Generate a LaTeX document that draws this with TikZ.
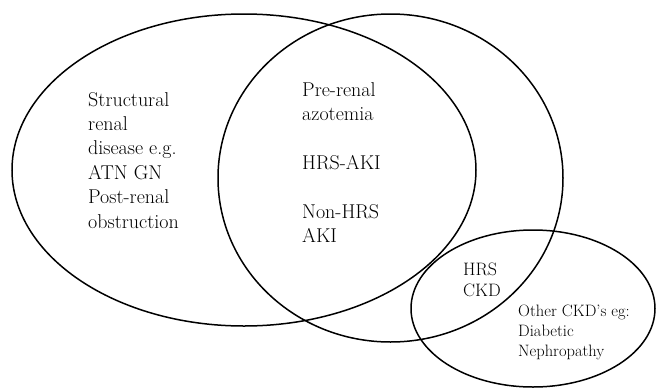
\documentclass[tikz,border=0pt]{standalone}
\usepackage{tikz}
\tikzstyle{lbl} = [inner sep=0pt,anchor=north west,align=left]

\begin{document}
\begin{tikzpicture}[x=1pt,y=-1pt]
	\useasboundingbox (0,0) rectangle (657,389);
	\begin{scope}[line width=1.5pt]
		
		% Sets:
		% Three ellipses, overlapping as in a Venn diagram
		\draw (244,170) ellipse [x radius=232, y radius=156];
		\draw (390.5,178) ellipse [x radius=172.5, y radius=164];
		\draw (533,308.5) ellipse [x radius=122, y radius=78.5];
		
	\end{scope}
	
	% Labels:
	% Placed by their top left corner
	\node[lbl,font=\fontsize{20}{24.4}\selectfont] (structural) at (88,92)
		{Structural\\renal\\disease e.g.\\ATN GN\\Post-renal\\obstruction};
	\node[lbl,font=\fontsize{20}{24.4}\selectfont] (prerenal) at (302,82)
		{Pre-renal\\azotemia\\[24.4pt]HRS-AKI\\[24.4pt]Non-HRS\\AKI};
	\node[lbl,font=\fontsize{18}{21}\selectfont] (hrsckd) at (463,262.5)
		{HRS\\CKD};
	\node[lbl,font=\fontsize{16.5}{20}\selectfont] (otherckd) at (518,305)
		{Other CKD's eg:\\Diabetic\\Nephropathy};
	
\end{tikzpicture}
\end{document}
